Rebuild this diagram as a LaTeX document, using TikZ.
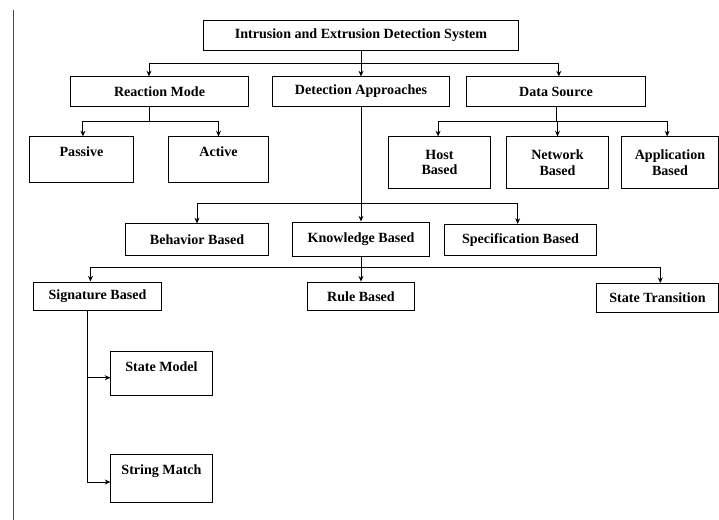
\documentclass[tikz,border=0pt]{standalone}
\usepackage{fontspec}
\setmainfont{Liberation Serif}
\usetikzlibrary{arrows.meta,positioning}

\tikzset{
  box/.style={draw,rectangle,line width=0.7pt,inner sep=1pt,font=\bfseries\fontsize{10}{11}\selectfont,align=center},
  topbox/.style={box,text height=12.5pt,text depth=#1},
  link/.style={line width=0.6pt,-{Stealth[length=4pt,width=3.5pt]}},
}

\begin{document}
\begin{tikzpicture}[x=0.025cm,y=-0.025cm]
    \useasboundingbox (0,0) rectangle (719,520);
    \draw[line width=0.5pt,black!70] (13,10) -- (13,520);

    \node[box,minimum width=7.85cm,minimum height=0.75cm] (idps) at (361,35) {Intrusion and Extrusion Detection System};

    \node[box,minimum width=4.43cm,minimum height=0.73cm] (react) at (159.5,91.5) {Reaction Mode};
    \node[box,minimum width=4.43cm,minimum height=0.73cm] (detect) at (361,91.5) {Detection Approaches};
    \node[box,minimum width=4.45cm,minimum height=0.73cm] (source) at (556,91.5) {Data Source};

    \node[topbox=17pt,minimum width=2.58cm,minimum height=1.13cm] (passive) at (81.5,159.5) {Passive};
    \node[topbox=17pt,minimum width=2.48cm,minimum height=1.13cm] (active) at (218.5,159.5) {Active};

    \node[box,minimum width=2.53cm,minimum height=1.28cm] (host) at (439.5,162.5) {Host\\Based};
    \node[box,minimum width=2.53cm,minimum height=1.28cm] (network) at (557.5,162.5) {Network\\Based};
    \node[box,minimum width=2.4cm,minimum height=1.28cm] (appl) at (670,162.5) {Application\\Based};

    \node[box,minimum width=3.55cm,minimum height=0.78cm] (behav) at (197,239.5) {Behavior Based};
    \node[box,minimum width=3.43cm,minimum height=0.85cm] (know) at (361,239) {Knowledge Based};
    \node[box,minimum width=3.78cm,minimum height=0.78cm] (spec) at (520.5,240) {Specification Based};

    \node[box,minimum width=3.18cm,minimum height=0.7cm] (sig) at (97.5,296) {Signature Based};
    \node[box,minimum width=2.65cm,minimum height=0.72cm] (rule) at (361,296.5) {Rule Based};
    \node[box,minimum width=3.03cm,minimum height=0.72cm] (trans) at (657.5,298) {State Transition};

    \node[topbox=15pt,minimum width=2.53cm,minimum height=1.08cm] (smodel) at (161.5,373.5) {State Model};
    \node[topbox=18pt,minimum width=2.53cm,minimum height=1.2cm] (smatch) at (161.5,478) {String Match};

    % junctions
    \coordinate (j1) at (361,63);
    \coordinate (j2) at (149,121);
    \coordinate (j3) at (556,121);
    \coordinate (j4) at (361,203);
    \coordinate (j5) at (361,267);
    \coordinate (j6) at (87,482);

    \draw[line width=0.6pt] (idps) -- (j1);
    \draw[link] (j1) -| (react.north -| j2);
    \draw[link] (j1) -- (detect);
    \draw[link] (j1) -| ([xshift=2pt]source.north);

    \draw[line width=0.6pt] (react.south -| j2) -- (j2);
    \draw[link] (j2) -| ([xshift=1pt]passive.north);
    \draw[link] (j2) -| (active);

    \draw[line width=0.6pt] (source) -- (j3);
    \draw[link] (j3) -| ([xshift=-1pt]host.north);
    \draw[link] (j3) -| (network);
    \draw[link] (j3) -| ([xshift=-2pt]appl.north);

    \draw[link] (detect) -- (know);
    \draw[link] (j4) -| (behav);
    \draw[link] (j4) -| ([xshift=-2pt]spec.north);

    \draw[line width=0.6pt] (know) -- (j5);
    \draw[link] (j5) -| ([xshift=-5pt]sig.north);
    \draw[link] (j5) -- (rule);
    \draw[link] (j5) -| ([xshift=2pt]trans.north);

    \draw[link] (sig.south -| j6) |- ([yshift=-3pt]smodel.west);
    \draw[link] (sig.south -| j6) |- (smatch.west |- j6);
\end{tikzpicture}
\end{document}
